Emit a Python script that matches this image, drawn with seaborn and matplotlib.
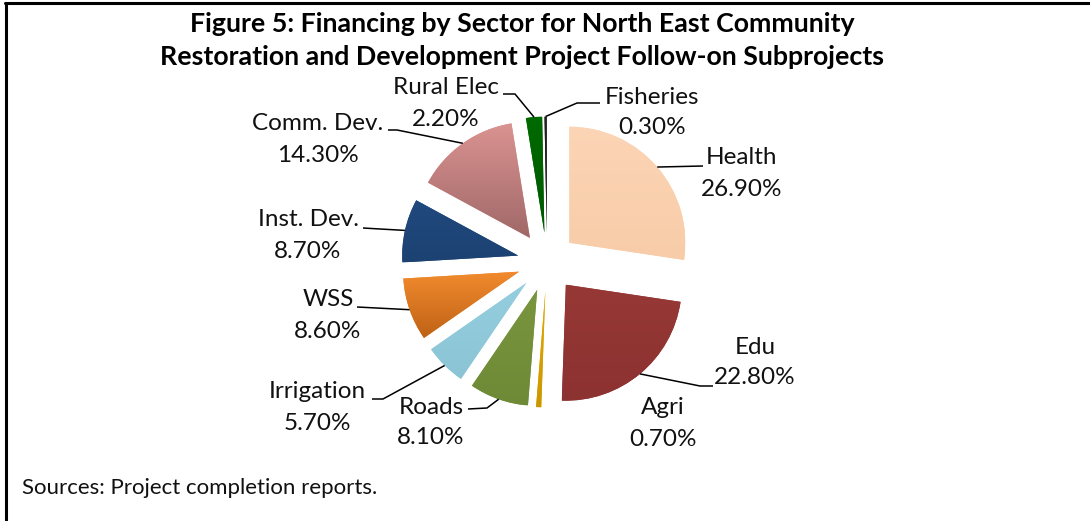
import numpy as np
import matplotlib.pyplot as plt
import matplotlib.colors as mcolors
import seaborn as sns

sns.set_theme(style="white")
plt.rcParams['font.family'] = ['Lato', 'DejaVu Sans']

# données du graphique (part du financement, %)
secteurs = ["Health", "Edu", "Agri", "Roads", "Irrigation", "WSS",
            "Inst. Dev.", "Comm. Dev.", "Rural Elec", "Fisheries"]
parts = [26.9, 22.8, 0.7, 8.1, 5.7, 8.6, 8.7, 14.3, 2.2, 0.3]

# couleurs (haut / bas du dégradé)
coul_haut = ["#FCD5B6", "#963836", "#E2AA05", "#79953E", "#95CEDE", "#F28B2E",
             "#20497E", "#DA9391", "#006A00", "#222222"]
coul_bas = ["#F8CCA8", "#8C3230", "#CC9600", "#6F8A36", "#8BC5D5", "#BF6216",
            "#1C4272", "#A06868", "#005800", "#111111"]

# position des étiquettes (pixels, origine en haut à gauche)
pos_etiq = [(742, 158), (755, 347), (663, 408), (431, 407), (317, 392),
            (328, 300), (308, 220), (318, 124), (446, 88), (652, 97)]
# lignes de rappel : coude puis extrémité côté texte (None = pas de ligne)
coudes = [((703, 166), (703, 166)), ((700, 386), (713, 386)), None,
          ((487, 408), (468, 409)), ((383, 399), (372, 399)),
          ((357, 307), (357, 307)), ((380, 229), (363, 228)),
          ((397, 130), (388, 130)), ((515, 94), (503, 94)),
          ((577, 103), (600, 103))]

W, H = 1090, 521
def Y(y):
    return H - y

fig = plt.figure(figsize=(10.9, 5.21), dpi=100)
ax = fig.add_axes([0, 0, 1, 1])

rayon = 116
centre = (547, Y(262))
wedges, _ = ax.pie(parts, startangle=90, counterclock=False,
                   explode=[29.5] * len(parts), radius=rayon, center=centre,
                   colors=coul_haut, wedgeprops=dict(linewidth=0))
ax.set_xlim(0, W)
ax.set_ylim(0, H)
ax.set_aspect('equal')
ax.axis('off')

# dégradé vertical sur chaque part
for w, c1, c2 in zip(wedges, coul_haut, coul_bas):
    bb = w.get_path().get_extents()
    cmap = mcolors.LinearSegmentedColormap.from_list("g", [c2, c1])
    grad = np.linspace(0, 1, 256).reshape(-1, 1)
    im = ax.imshow(grad, cmap=cmap, origin='lower', aspect='auto',
                   extent=(bb.x0, bb.x1, bb.y0, bb.y1), zorder=2)
    im.set_clip_path(w)

# étiquettes et lignes de rappel
for w, nom, v, (tx, ty), cd in zip(wedges, secteurs, parts, pos_etiq, coudes):
    ax.text(tx, Y(ty), nom, ha='center', va='center', fontsize=17.5, color='#111111')
    ax.text(tx, Y(ty + 31), f"{v:.2f}%", ha='center', va='center', fontsize=17.5,
            color='#111111')
    if cd is None:
        continue
    th = np.deg2rad((w.theta1 + w.theta2) / 2)
    cx, cy = w.center
    px, py = cx + w.r * np.cos(th), cy + w.r * np.sin(th)
    (kx, ky), (ex, ey) = cd
    ax.plot([px, kx, ex], [py, Y(ky), Y(ey)], color='black', lw=1.1,
            zorder=3, solid_capstyle='butt')

# titre et source
ax.text(522, Y(32), "Figure 5: Financing by Sector for North East Community",
        ha='center', va='baseline', fontsize=19.3, fontweight='bold', color='black')
ax.text(522, Y(65), "Restoration and Development Project Follow-on Subprojects",
        ha='center', va='baseline', fontsize=19.3, fontweight='bold', color='black')
ax.text(22, Y(488), "Sources: Project completion reports.", ha='left',
        va='center', fontsize=16, color='#111111')

# cadre (haut et gauche)
ax.plot([5, W], [Y(3), Y(3)], color='black', lw=2.2, clip_on=False)
ax.plot([6, 6], [Y(3), 0], color='black', lw=2.2, clip_on=False)

fig.savefig("out.png", dpi=100)
